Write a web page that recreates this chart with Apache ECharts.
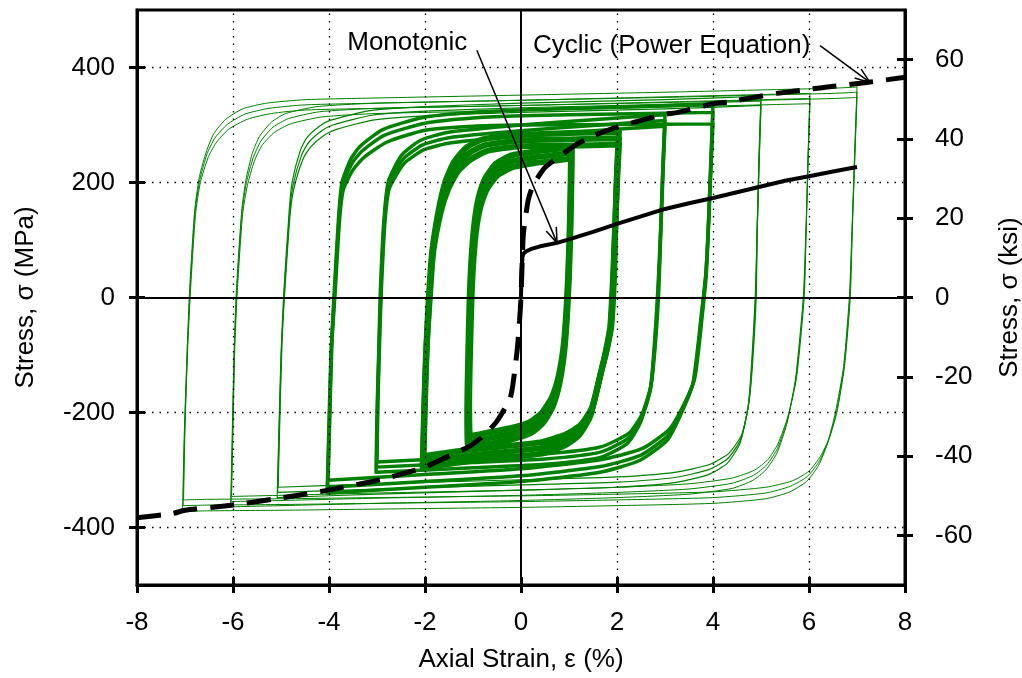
<!DOCTYPE html>
<html><head><meta charset="utf-8">
<script src="https://cdn.jsdelivr.net/npm/echarts@6/dist/echarts.min.js"></script>
<style>html,body{margin:0;padding:0;background:#fff}#c{width:1022px;height:678px}</style>
</head><body><div id="c"></div>
<script>
// ---------- tick labels ----------
const xTicks = [-8, -6, -4, -2, 0, 2, 4, 6, 8];
const yTicksMPa = [-400, -200, 0, 200, 400];
const yTicksKsi = [-60, -40, -20, 0, 20, 40, 60];
const gridLinesX = [-6, -4, -2, 2, 4, 6];
const gridLinesY = [-400, -200, 200, 400];
const MPA_PER_KSI = 6.894757;

// ---------- hysteresis loops [strain %, stress MPa] (three cycles per amplitude) ----------
const loop1a = [[1.06,262],[1.05,200],[1.03,120],[1.00,40],[0.96,-30],[0.90,-95],[0.80,-150],[0.66,-190],[0.46,-218],[0.20,-236],[-0.20,-247],[-0.70,-255],[-1.05,-260],[-1.11,-255],[-1.12,-200],[-1.10,-100],[-1.07,0],[-1.03,70],[-0.97,130],[-0.88,175],[-0.74,208],[-0.52,233],[-0.20,247],[0.30,254],[0.80,259],[1.06,262]];
const loop1b = [[1.05,252],[1.04,190],[1.02,112],[0.99,38],[0.95,-30],[0.89,-92],[0.79,-144],[0.65,-182],[0.45,-209],[0.20,-226],[-0.20,-237],[-0.70,-245],[-1.04,-250],[-1.09,-245],[-1.10,-190],[-1.08,-95],[-1.05,0],[-1.01,68],[-0.95,125],[-0.86,167],[-0.72,199],[-0.50,223],[-0.18,237],[0.30,244],[0.80,249],[1.05,252]];
const loop1c = [[1.04,242],[1.03,180],[1.01,105],[0.98,36],[0.94,-30],[0.88,-89],[0.78,-138],[0.64,-174],[0.44,-200],[0.20,-216],[-0.20,-227],[-0.70,-235],[-1.03,-240],[-1.07,-235],[-1.08,-180],[-1.06,-90],[-1.03,0],[-0.99,66],[-0.93,120],[-0.84,159],[-0.70,190],[-0.48,213],[-0.16,227],[0.30,234],[0.80,239],[1.04,242]];

const loop2a = [[2.04,288],[2.00,220],[1.96,120],[1.92,40],[1.86,-50],[1.75,-100],[1.65,-135],[1.44,-207],[1.20,-240],[0.90,-258],[0.40,-272],[-1.00,-284],[-2.05,-296],[-2.02,-200],[-1.98,-100],[-1.92,0],[-1.85,80],[-1.72,150],[-1.58,200],[-1.40,235],[-1.15,260],[-0.80,275],[0.00,283],[1.00,286],[2.04,288]];
const loop2b = [[2.04,277],[2.00,210],[1.96,115],[1.93,40],[1.87,-50],[1.77,-95],[1.67,-129],[1.46,-199],[1.22,-231],[0.92,-248],[0.40,-262],[-1.00,-274],[-2.04,-286],[-2.01,-190],[-1.97,-90],[-1.91,0],[-1.84,80],[-1.70,148],[-1.55,194],[-1.36,227],[-1.10,250],[-0.75,265],[0.00,273],[1.00,275],[2.04,277]];
const loop2c = [[2.04,266],[2.00,200],[1.96,110],[1.94,40],[1.88,-50],[1.79,-90],[1.69,-123],[1.48,-191],[1.24,-222],[0.94,-238],[0.40,-252],[-1.00,-264],[-2.03,-276],[-2.00,-180],[-1.96,-80],[-1.90,0],[-1.83,78],[-1.68,146],[-1.52,188],[-1.32,219],[-1.05,240],[-0.70,255],[0.00,263],[1.00,264],[2.04,266]];

const loop3a = [[3.00,318],[2.96,240],[2.91,120],[2.85,12],[2.78,-80],[2.69,-162],[2.48,-219],[2.21,-254],[1.65,-278],[0.50,-290],[-1.00,-296],[-3.02,-304],[-3.00,-200],[-2.96,-80],[-2.93,12],[-2.86,130],[-2.77,200],[-2.60,232],[-2.46,250],[-2.10,273],[-1.54,287],[0.00,300],[1.50,309],[3.00,318]];
const loop3b = [[3.00,308],[2.96,230],[2.91,115],[2.86,12],[2.79,-80],[2.70,-157],[2.50,-211],[2.23,-245],[1.65,-269],[0.50,-281],[-1.00,-287],[-3.01,-295],[-2.99,-190],[-2.95,-70],[-2.92,12],[-2.85,130],[-2.76,195],[-2.58,225],[-2.43,243],[-2.06,265],[-1.50,278],[0.00,290],[1.50,299],[3.00,308]];
const loop3c = [[3.00,298],[2.96,220],[2.91,110],[2.87,12],[2.80,-80],[2.71,-152],[2.52,-203],[2.25,-236],[1.65,-260],[0.50,-272],[-1.00,-278],[-3.00,-286],[-2.98,-180],[-2.94,-60],[-2.91,12],[-2.84,125],[-2.75,188],[-2.56,218],[-2.40,236],[-2.02,257],[-1.46,269],[0.00,281],[1.50,290],[3.00,298]];

const loop4a = [[4.00,336],[3.96,250],[3.90,120],[3.85,40],[3.77,-20],[3.58,-150],[3.31,-207],[3.04,-249],[2.48,-283],[1.65,-304],[0.00,-320],[-2.00,-330],[-4.04,-340],[-4.01,-250],[-3.96,-100],[-3.89,12],[-3.80,140],[-3.73,200],[-3.55,240],[-3.35,263],[-2.88,292],[-2.04,313],[-1.00,322],[0.00,326],[2.00,331],[4.00,336]];
const loop4b = [[4.00,322],[3.96,240],[3.90,115],[3.85,40],[3.78,-20],[3.60,-145],[3.33,-200],[3.06,-240],[2.50,-274],[1.65,-294],[0.00,-310],[-2.00,-320],[-4.03,-330],[-4.00,-240],[-3.95,-90],[-3.88,12],[-3.79,140],[-3.72,195],[-3.53,232],[-3.32,254],[-2.85,282],[-2.00,303],[-1.00,312],[0.00,316],[2.00,319],[4.00,322]];
const loop4c = [[4.00,302],[3.96,230],[3.90,110],[3.86,40],[3.79,-20],[3.62,-140],[3.35,-193],[3.08,-230],[2.52,-263],[1.65,-282],[0.00,-298],[-2.00,-308],[-4.02,-318],[-3.99,-230],[-3.94,-80],[-3.87,12],[-3.78,135],[-3.70,188],[-3.50,222],[-3.28,243],[-2.80,270],[-2.00,291],[-1.00,298],[0.00,300],[2.00,301],[4.00,302]];

const loop5a = [[5.00,350],[4.96,250],[4.92,120],[4.88,0],[4.80,-120],[4.73,-191],[4.56,-254],[4.29,-289],[3.90,-308],[3.20,-322],[2.00,-330],[0.00,-335],[-3.00,-342],[-5.08,-348],[-5.05,-250],[-5.00,-100],[-4.94,12],[-4.83,150],[-4.77,200],[-4.60,255],[-4.46,278],[-4.20,298],[-3.98,308],[-3.15,325],[-2.00,332],[0.00,338],[3.00,344],[5.00,350]];
const loop5b = [[5.00,342],[4.96,240],[4.92,115],[4.89,0],[4.81,-120],[4.74,-186],[4.58,-246],[4.31,-280],[3.92,-299],[3.20,-313],[2.00,-321],[0.00,-326],[-3.00,-333],[-5.07,-339],[-5.04,-240],[-4.99,-90],[-4.93,12],[-4.82,148],[-4.75,195],[-4.57,248],[-4.42,270],[-4.15,290],[-3.92,300],[-3.10,317],[-2.00,324],[0.00,330],[3.00,336],[5.00,342]];
const loop5c = [[5.00,334],[4.96,230],[4.92,110],[4.90,0],[4.82,-120],[4.75,-181],[4.60,-238],[4.33,-271],[3.94,-290],[3.20,-304],[2.00,-312],[0.00,-317],[-3.00,-324],[-5.06,-330],[-5.03,-230],[-4.98,-80],[-4.92,12],[-4.81,145],[-4.73,190],[-4.54,241],[-4.38,262],[-4.10,282],[-3.86,292],[-3.05,309],[-2.00,316],[0.00,322],[3.00,328],[5.00,334]];

const loop6a = [[6.02,355],[5.98,250],[5.94,130],[5.88,0],[5.72,-140],[5.54,-219],[5.33,-271],[5.10,-300],[4.83,-318],[4.40,-332],[3.50,-342],[2.00,-348],[0.00,-353],[-3.00,-358],[-5.00,-362],[-6.05,-364],[-6.02,-250],[-5.98,-100],[-5.93,12],[-5.82,150],[-5.73,205],[-5.60,250],[-5.45,280],[-5.20,305],[-4.90,320],[-4.25,332],[-3.00,338],[0.00,343],[3.00,349],[5.00,353],[6.02,355]];
const loop6b = [[6.02,346],[5.98,240],[5.94,120],[5.89,0],[5.73,-140],[5.55,-213],[5.34,-263],[5.12,-291],[4.85,-309],[4.40,-323],[3.50,-333],[2.00,-339],[0.00,-344],[-3.00,-349],[-5.00,-353],[-6.04,-355],[-6.01,-240],[-5.97,-90],[-5.92,12],[-5.81,150],[-5.72,200],[-5.58,243],[-5.42,272],[-5.17,296],[-4.85,311],[-4.20,323],[-3.00,329],[0.00,334],[3.00,340],[5.00,344],[6.02,346]];
const loop6c = [[6.02,337],[5.98,230],[5.94,110],[5.90,0],[5.74,-140],[5.56,-207],[5.35,-255],[5.14,-282],[4.87,-300],[4.40,-314],[3.50,-324],[2.00,-330],[0.00,-335],[-3.00,-340],[-5.00,-344],[-6.03,-346],[-6.00,-230],[-5.96,-80],[-5.91,12],[-5.80,145],[-5.70,195],[-5.56,236],[-5.40,264],[-5.14,287],[-4.80,302],[-4.15,314],[-3.00,320],[0.00,325],[3.00,331],[5.00,335],[6.02,337]];

const loop7a = [[7.00,366],[6.95,250],[6.90,130],[6.84,0],[6.72,-120],[6.55,-200],[6.38,-255],[6.20,-292],[5.95,-320],[5.60,-338],[5.10,-350],[4.00,-358],[2.00,-362],[0.00,-365],[-3.00,-368],[-5.00,-370],[-6.50,-371],[-7.05,-372],[-7.02,-250],[-6.96,-100],[-6.90,20],[-6.80,150],[-6.70,210],[-6.55,255],[-6.40,285],[-6.15,310],[-5.80,328],[-5.30,338],[-4.50,344],[-3.00,347],[0.00,352],[3.00,357],[5.00,361],[6.50,364],[7.00,366]];
const loop7b = [[7.00,357],[6.95,240],[6.90,120],[6.85,0],[6.73,-120],[6.57,-200],[6.40,-250],[6.22,-284],[5.97,-311],[5.62,-328],[5.10,-340],[4.00,-348],[2.00,-352],[0.00,-355],[-3.00,-358],[-5.00,-360],[-6.50,-361],[-7.04,-362],[-7.01,-240],[-6.95,-90],[-6.89,20],[-6.79,150],[-6.69,205],[-6.54,250],[-6.38,277],[-6.12,301],[-5.75,319],[-5.25,329],[-4.50,335],[-3.00,338],[0.00,343],[3.00,348],[5.00,352],[6.50,355],[7.00,357]];
const loop7c = [[7.00,348],[6.95,230],[6.90,110],[6.86,0],[6.74,-120],[6.58,-200],[6.42,-245],[6.24,-276],[6.00,-302],[5.65,-319],[5.10,-330],[4.00,-338],[2.00,-342],[0.00,-345],[-3.00,-348],[-5.00,-350],[-6.50,-351],[-7.03,-352],[-7.00,-230],[-6.94,-80],[-6.88,20],[-6.78,145],[-6.68,200],[-6.52,243],[-6.36,268],[-6.10,292],[-5.70,310],[-5.20,320],[-4.50,326],[-3.00,329],[0.00,334],[3.00,339],[5.00,343],[6.50,346],[7.00,348]];

// ---------- black curves ----------
const monotonic = [[0,0],[0.01,40],[0.03,70],[0.05,76],[0.10,80],[0.20,84],[0.40,89],[0.75,95],[1.00,101],[1.50,114],[2.00,128],[2.50,141],[3.00,154],[3.50,164],[4.00,173],[4.50,183],[5.00,193],[5.50,203],[6.00,211],[6.50,219],[7.00,227]];
const cyclicCurve = [[-8.00,-383],[-7.27,-376],[-7.00,-370],[-6.23,-363],[-5.92,-360],[-5.19,-351],[-4.88,-347],[-4.15,-337],[-3.83,-332],[-3.10,-320],[-2.79,-314],[-2.06,-297],[-1.79,-287],[-1.06,-258],[-0.75,-238],[-0.50,-215],[-0.23,-176],[-0.17,-152],[-0.08,-92],[-0.03,-40],[0.00,0],[0.02,50],[0.05,111],[0.15,169],[0.25,195],[0.50,226],[0.88,250],[1.19,268],[1.50,281],[1.92,294],[2.23,302],[2.96,318],[3.27,322],[4.00,337],[4.31,340],[5.04,351],[5.33,355],[6.08,363],[6.38,366],[7.20,374],[8.00,383]];

// ---------- style ----------
const FONT = '"Liberation Sans", Arial, sans-serif';
const FS = 26;
const GREEN = '#008000';
const loopGroups = [
  {loops: [loop7a, loop7b, loop7c], width: 1},
  {loops: [loop6a, loop6b, loop6c], width: 1},
  {loops: [loop5a, loop5b, loop5c], width: 1.2},
  {loops: [loop4a, loop4b, loop4c], width: 3.5},
  {loops: [loop3a, loop3b, loop3c], width: 3.5},
  {loops: [loop2a, loop2b, loop2c], width: 6},
  {loops: [loop1a, loop1b, loop1c], width: 6}
];

const series = [];
series.push({
  type: 'line', data: [], silent: true, z: 1,
  markLine: {silent: true, symbol: 'none', label: {show: false},
    lineStyle: {color: '#000', width: 1.3, type: [1.5, 6]},
    data: gridLinesX.map(v => ({xAxis: v})).concat(gridLinesY.map(v => ({yAxis: v})))}
});
series.push({
  type: 'line', data: [], silent: true, z: 1,
  markLine: {silent: true, symbol: 'none', label: {show: false},
    lineStyle: {color: '#000', width: 2, type: 'solid'},
    data: [{xAxis: 0}, {yAxis: 0}]}
});
loopGroups.forEach(g => g.loops.forEach(l => series.push({
  type: 'line', data: l, showSymbol: false, smooth: 0.2, z: 3, silent: true,
  lineStyle: {color: GREEN, width: g.width, join: 'round', cap: 'round'}
})));
series.push({type: 'line', data: monotonic, showSymbol: false, z: 5, silent: true,
  lineStyle: {color: '#000', width: 4}});
series.push({type: 'line', data: cyclicCurve, showSymbol: false, smooth: 0.2, z: 5, silent: true,
  lineStyle: {color: '#000', width: 5, type: [24, 13]}});

const tickStyle = {lineStyle: {color: '#000', width: 3}, length: 8};
const labelStyle = {color: '#000', fontSize: FS, fontFamily: FONT};
const nameStyle = {color: '#000', fontSize: FS, fontFamily: FONT};

const option = {
  animation: false,
  backgroundColor: '#fff',
  grid: {left: 137, right: 117, top: 10, bottom: 93, show: true, borderColor: '#000', borderWidth: 3,
         backgroundColor: 'transparent', containLabel: false, outerBoundsMode: 'none'},
  xAxis: [
    {type: 'value', min: xTicks[0], max: xTicks[xTicks.length - 1], interval: 2, position: 'bottom',
     axisLine: {onZero: false, lineStyle: {color: '#000', width: 3}},
     axisTick: Object.assign({inside: false}, tickStyle),
     axisLabel: Object.assign({margin: 25}, labelStyle),
     splitLine: {show: false},
     name: 'Axial Strain, ε (%)', nameLocation: 'middle', nameGap: 62, nameTextStyle: nameStyle},
    {type: 'value', min: xTicks[0], max: xTicks[xTicks.length - 1], interval: 2, position: 'bottom',
     axisLine: {show: false, onZero: false}, axisTick: Object.assign({inside: true}, tickStyle),
     axisLabel: {show: false}, splitLine: {show: false}}
  ],
  yAxis: [
    {type: 'value', min: -500, max: 500, interval: 100, position: 'left',
     axisLine: {onZero: false, lineStyle: {color: '#000', width: 3}},
     axisTick: Object.assign({inside: false, customValues: yTicksMPa}, tickStyle),
     axisLabel: Object.assign({margin: 22, customValues: yTicksMPa}, labelStyle),
     splitLine: {show: false},
     name: 'Stress, σ (MPa)', nameLocation: 'middle', nameRotate: 90, nameGap: 98, nameTextStyle: nameStyle},
    {type: 'value', min: -500, max: 500, interval: 100, position: 'left',
     axisLine: {show: false, onZero: false},
     axisTick: Object.assign({inside: true, customValues: yTicksMPa}, tickStyle),
     axisLabel: {show: false}, splitLine: {show: false}},
    {type: 'value', min: -500 / MPA_PER_KSI, max: 500 / MPA_PER_KSI, interval: 20, position: 'right',
     axisLine: {onZero: false, lineStyle: {color: '#000', width: 3}},
     axisTick: Object.assign({inside: false, customValues: yTicksKsi}, tickStyle),
     axisLabel: Object.assign({margin: 30, customValues: yTicksKsi}, labelStyle),
     splitLine: {show: false},
     name: 'Stress, σ (ksi)', nameLocation: 'middle', nameRotate: 90, nameGap: 92, nameTextStyle: nameStyle},
    {type: 'value', min: -500 / MPA_PER_KSI, max: 500 / MPA_PER_KSI, interval: 20, position: 'right',
     axisLine: {show: false, onZero: false},
     axisTick: Object.assign({inside: true, customValues: yTicksKsi}, tickStyle),
     axisLabel: {show: false}, splitLine: {show: false}}
  ],
  series: series
};

const chart = echarts.init(document.getElementById('c'), null, {renderer: 'canvas'});
chart.setOption(option);

// ---------- annotations (anchored in data coordinates) ----------
const annotations = [
  {text: 'Monotonic', label: [-3.62, 443], from: [-0.92, 430], to: [0.75, 95]},
  {text: 'Cyclic (Power Equation)', label: [0.25, 437], from: [6.23, 438], to: [7.27, 374]}
];
const px = p => chart.convertToPixel({seriesIndex: 2}, p);
const graphics = [];
annotations.forEach(a => {
  const l = px(a.label), f = px(a.from), t = px(a.to);
  graphics.push({type: 'text', z: 10, style: {text: a.text, x: l[0], y: l[1], fill: '#000',
    fontSize: FS, fontFamily: FONT, align: 'left', verticalAlign: 'middle'}});
  graphics.push({type: 'line', z: 10, shape: {x1: f[0], y1: f[1], x2: t[0], y2: t[1]},
    style: {stroke: '#000', lineWidth: 1.5}});
  const ang = Math.atan2(f[1] - t[1], f[0] - t[0]);
  [-0.35, 0.35].forEach(d => {
    graphics.push({type: 'line', z: 10, shape: {x1: t[0], y1: t[1],
      x2: t[0] + 16 * Math.cos(ang + d), y2: t[1] + 16 * Math.sin(ang + d)},
      style: {stroke: '#000', lineWidth: 1.5}});
  });
});
chart.setOption({graphic: graphics});
</script></body></html>
